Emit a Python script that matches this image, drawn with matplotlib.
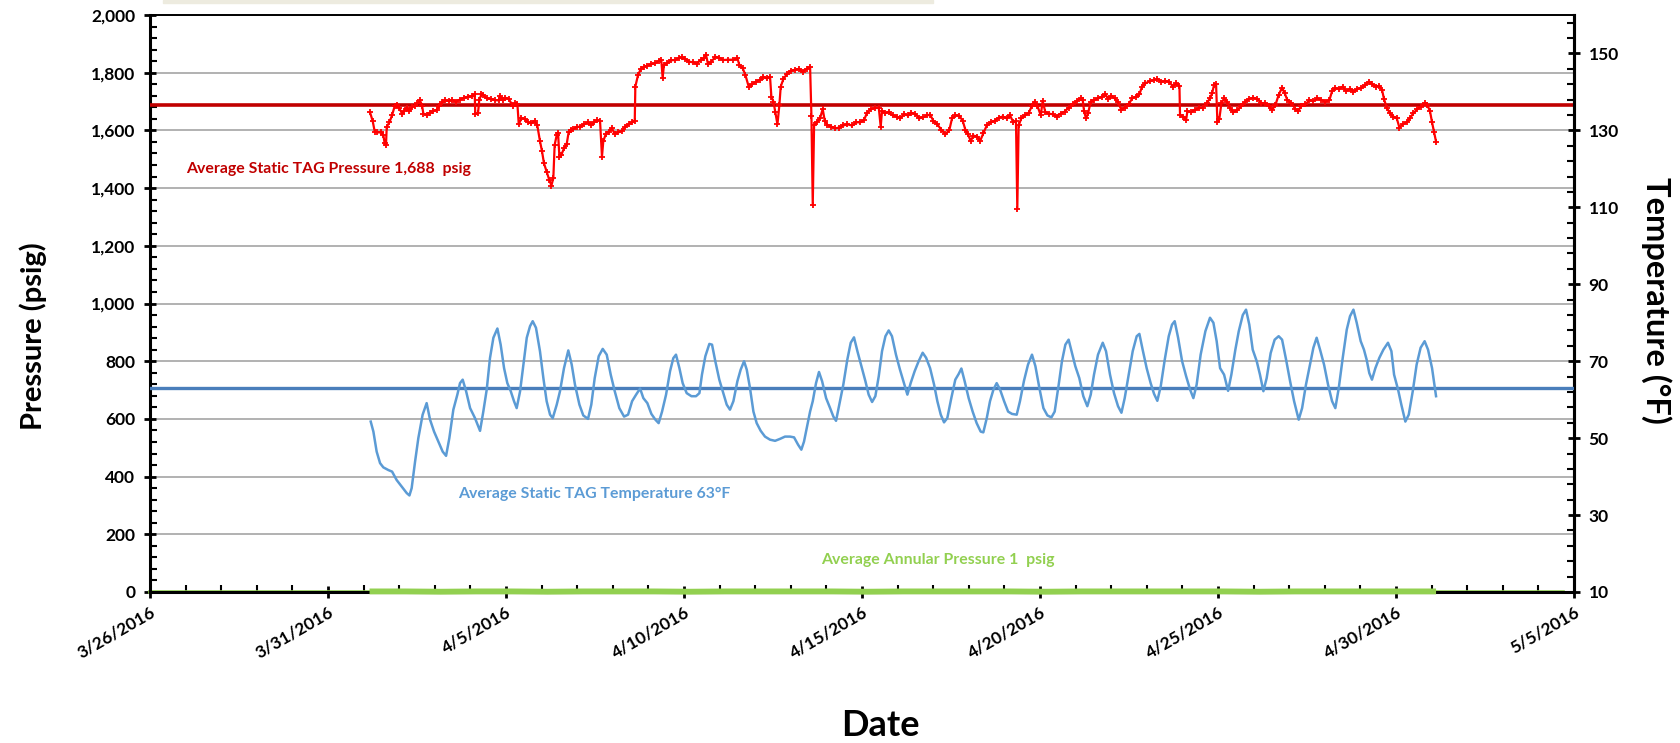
import datetime as dt
import matplotlib
matplotlib.use("Agg")
import matplotlib.pyplot as plt
import matplotlib.dates as mdates
from matplotlib.ticker import FixedLocator, FuncFormatter
from matplotlib.patches import Rectangle
import numpy as np

plt.rcParams['font.family'] = ['Lato', 'DejaVu Sans']

# ---- data -------------------------------------------------------------
# time stamps are hours after 2016-04-01 00:00
pressure_hours = [
    4.3, 6.1, 7.5, 9.3, 12.0, 13.3, 14.2, 15.1, 15.6, 17.4,
    19.2, 21.0, 22.3, 24.1, 25.9, 27.3, 29.1, 30.9, 32.7, 34.5,
    36.2, 38.0, 39.4, 40.3, 42.5, 44.8, 47.0, 49.3, 51.1, 52.9,
    55.1, 57.4, 59.6, 62.3, 65.0, 67.7, 70.4, 73.1, 74.9, 75.3,
    77.1, 78.0, 79.4, 80.7, 83.0, 85.7, 88.4, 91.1, 92.0, 93.8,
    95.6, 97.8, 100.5, 102.3, 103.7, 104.6, 106.4, 108.6, 110.9, 113.1,
    115.3, 117.1, 118.9, 120.3, 121.6, 123.4, 125.2, 126.6, 127.9, 128.8,
    130.2, 131.1, 132.0, 133.3, 135.1, 136.9, 138.3, 139.6, 141.4, 143.7,
    145.9, 148.6, 151.3, 153.5, 155.3, 157.6, 159.4, 160.7, 161.6, 163.4,
    165.2, 167.5, 169.3, 171.5, 174.2, 176.5, 178.7, 181.0, 182.8, 183.2,
    185.0, 186.8, 189.0, 191.3, 193.5, 196.2, 198.9, 200.7, 201.6, 202.5,
    204.3, 207.0, 209.7, 212.4, 214.7, 216.9, 219.6, 222.3, 224.5, 227.2,
    229.5, 230.8, 232.2, 234.4, 237.1, 239.8, 242.5,
    245.7, 249.3, 252.0, 253.3, 255.6, 257.4, 259.6, 261.9, 264.6, 267.3,
    269.5, 271.8, 274.0, 274.9, 276.3, 277.6, 279.0, 280.3, 281.2, 283.0,
    285.2, 287.9, 290.6, 293.3, 296.0, 298.7, 301.0, 301.9, 302.8, 303.7,
    305.5, 307.7, 309.5, 310.9, 312.7, 315.3, 318.0, 320.7, 323.4, 326.1,
    329.3, 332.0, 334.7, 337.4, 339.2, 341.9, 344.6, 347.3, 348.6, 349.5,
    351.8, 354.0, 356.7, 359.4, 361.6, 364.3, 367.0, 369.3, 372.0, 374.7,
    377.4, 380.1, 381.9, 384.1, 386.8, 389.5, 392.2, 394.9, 396.7, 399.0,
    401.6, 403.9, 405.7, 407.5, 409.3, 411.1, 413.8, 415.6, 417.8, 420.1,
    422.8, 425.5, 428.2, 430.8, 433.5, 435.8, 438.0, 439.8, 440.7, 441.6,
    443.4, 445.7, 448.4, 450.6, 452.4, 454.2, 456.5, 457.8, 459.6, 461.9,
    464.6, 467.3, 469.9, 472.6, 475.3, 478.0, 480.7, 483.4,
    484.8, 485.7, 487.0, 488.4, 490.2, 492.4, 495.1, 497.8, 500.1, 501.9,
    504.1, 506.4, 508.6, 510.9, 513.1, 515.8, 518.1, 520.7, 523.0, 524.8,
    527.0, 530.2, 532.9, 535.1, 537.8, 540.5, 543.2, 545.5, 547.7, 550.0,
    550.4, 552.7, 554.5, 555.4, 557.6, 560.3, 563.0, 565.7, 568.4, 570.6,
    572.0, 573.3, 574.7, 575.6, 576.9, 578.3, 580.1, 581.9, 584.1, 586.4,
    589.1, 591.8, 594.5, 597.1, 599.8, 602.5, 605.2, 607.9, 610.2, 612.4,
    614.7, 616.9, 619.2, 621.0, 622.8, 625.5, 628.2, 630.0, 632.2, 634.9,
    637.6, 640.3, 643.0, 645.7, 648.4, 651.1, 652.9, 655.1, 657.8, 660.1,
    662.3, 665.0, 667.3, 670.0, 672.7, 675.3, 677.6, 679.8, 682.5, 684.8,
    686.6, 687.9, 689.7, 692.0, 694.2, 696.5, 698.3, 700.5, 703.2, 705.5,
    707.7, 710.4, 712.6, 715.3, 717.1, 718.9, 720.3, 721.6, 723.0,
]
pressure_psig = [
    1663, 1633, 1596, 1593, 1593, 1584, 1555, 1550, 1613, 1628,
    1653, 1685, 1688, 1677, 1658, 1667, 1679, 1667, 1682, 1686,
    1694, 1704, 1686, 1658, 1653, 1662, 1667, 1671, 1686, 1697,
    1704, 1702, 1705, 1700, 1707, 1713, 1717, 1719, 1725, 1656,
    1659, 1705, 1725, 1723, 1711, 1709, 1705, 1704, 1720, 1704,
    1713, 1709, 1686, 1694, 1690, 1621, 1642, 1640, 1628, 1625,
    1633, 1617, 1563, 1527, 1486, 1457, 1428, 1409, 1434, 1550,
    1584, 1590, 1509, 1515, 1538, 1552, 1596, 1601, 1605, 1612,
    1613, 1621, 1628, 1619, 1628, 1636, 1633, 1509, 1563, 1589,
    1596, 1607, 1587, 1593, 1598, 1613, 1621, 1628, 1633, 1752,
    1792, 1812, 1820, 1824, 1829, 1832, 1840, 1843, 1783, 1827,
    1832, 1843, 1844, 1850, 1854, 1847, 1838, 1836, 1831, 1844,
    1850, 1863, 1829, 1838, 1855, 1852, 1844,
    1845, 1845, 1850, 1827, 1815, 1792, 1752, 1760, 1769, 1775,
    1786, 1780, 1786, 1717, 1700, 1663, 1621, 1688, 1752, 1778,
    1794, 1806, 1810, 1813, 1803, 1813, 1821, 1651, 1342, 1617,
    1628, 1642, 1674, 1633, 1619, 1613, 1607, 1610, 1617, 1621,
    1617, 1628, 1628, 1636, 1659, 1674, 1677, 1679, 1613, 1667,
    1660, 1664, 1652, 1648, 1642, 1656, 1652, 1661, 1656, 1642,
    1646, 1652, 1655, 1633, 1621, 1602, 1586, 1602, 1642, 1652,
    1651, 1633, 1602, 1586, 1563, 1582, 1578, 1563, 1590, 1617,
    1628, 1633, 1644, 1648, 1642, 1652, 1628, 1633, 1328, 1617,
    1642, 1652, 1660, 1686, 1700, 1686, 1652, 1702, 1663, 1658,
    1656, 1648, 1658, 1665, 1679, 1690, 1702, 1711,
    1705, 1667, 1642, 1659, 1700, 1705, 1711, 1717, 1725, 1709,
    1720, 1711, 1697, 1671, 1679, 1690, 1711, 1717, 1725, 1752,
    1763, 1771, 1775, 1778, 1769, 1771, 1769, 1752, 1763, 1755,
    1653, 1648, 1636, 1667, 1663, 1671, 1677, 1679, 1694, 1711,
    1728, 1757, 1760, 1628, 1640, 1694, 1711, 1700, 1679, 1663,
    1671, 1686, 1700, 1709, 1713, 1709, 1694, 1694, 1686, 1671,
    1688, 1723, 1748, 1728, 1705, 1694, 1674, 1667, 1686, 1690,
    1705, 1702, 1711, 1705, 1700, 1705, 1736, 1746, 1744, 1752,
    1736, 1744, 1734, 1744, 1748, 1757, 1769, 1760, 1752, 1755,
    1740, 1709, 1679, 1659, 1648, 1642, 1610, 1621, 1628, 1644,
    1659, 1674, 1682, 1694, 1688, 1667, 1628, 1596, 1561,
]

temp_hours = [
    4.8, 6.6, 8.8, 11.1, 13.3, 16.7, 19.2, 22.3, 25.7, 29.1,
    30.9, 32.4, 34.7, 36.9, 39.8, 42.5, 44.8, 47.5, 50.4, 53.3,
    55.6, 57.8, 60.5, 63.2, 65.0, 66.8, 69.1, 71.8, 75.1, 78.5,
    80.7, 83.0, 85.2, 87.5, 90.2, 92.4, 94.7, 96.9, 99.2, 101.4,
    103.2, 105.5, 107.7, 110.0, 112.2, 114.0, 116.2, 118.9, 121.2, 123.4,
    125.7, 127.5, 130.2, 132.4, 135.1, 138.0, 140.3, 142.5, 145.5, 148.1,
    151.3, 153.5, 155.8, 158.5, 161.2, 163.9, 166.6, 169.3, 172.4, 175.6,
    178.3, 181.0, 183.7, 186.4, 188.6, 191.3, 194.0, 196.7, 198.9, 201.2,
    203.9, 206.6, 208.8, 210.6, 212.9, 215.1, 217.8, 221.0, 224.1, 226.4,
    228.1, 230.4, 233.1, 234.9, 237.1, 239.8, 242.5,
    244.8, 247.0, 249.3, 252.0, 254.2, 256.5, 258.3, 260.5, 262.8, 265.0,
    267.7, 270.6, 274.0, 277.4, 280.7, 284.1, 287.5, 290.2, 292.9, 295.1,
    296.9, 299.2, 301.0, 302.8, 305.0, 307.0, 309.1, 311.8, 314.5, 316.7,
    318.5, 320.7, 323.4, 326.1, 328.4, 330.6, 332.9, 335.6, 338.3, 340.5,
    342.8, 345.0, 347.3, 349.5, 351.8, 354.0, 356.2, 358.9, 361.6, 364.3,
    366.6, 368.8, 371.5, 374.2, 376.9, 379.2, 381.9, 384.6, 386.8, 389.1,
    391.3, 393.5, 396.2, 398.9, 401.2, 403.0, 405.2, 407.9, 410.6, 413.3,
    416.0, 417.8, 420.1, 422.3, 424.6, 426.8, 429.1, 431.8, 434.5, 437.1,
    440.3, 442.5, 445.2, 447.9, 450.6, 452.9, 455.6, 458.3, 461.0, 463.7,
    465.9, 468.6, 470.8, 473.1, 475.3, 477.6, 479.8, 482.5,
    485.2, 487.9, 490.2, 492.4, 495.1, 498.3, 500.5, 503.2, 505.9, 508.6,
    510.9, 513.1, 515.8, 518.5, 521.2, 523.0, 525.2, 527.9, 530.6, 532.9,
    535.1, 537.4, 540.1, 542.8, 545.0, 546.8, 549.1, 551.8, 554.5, 557.2,
    559.4, 561.6, 564.3, 567.5, 570.6, 572.9, 575.1, 577.4, 580.1, 582.8,
    585.0, 587.7, 590.0, 592.7, 594.9, 597.1, 599.4, 602.1, 604.3, 606.6,
    608.8, 611.5, 614.2, 616.9, 619.2, 621.9, 624.6, 627.3, 630.4, 632.7,
    635.3, 638.0, 640.3, 642.5, 644.8, 647.5, 650.2, 652.9, 655.1, 657.4,
    660.1, 662.8, 665.0, 667.3, 669.5, 672.2, 674.4, 676.2, 678.0, 679.8,
    682.1, 684.8, 687.5, 690.6, 692.9, 694.7, 697.4, 699.6, 702.3, 704.6,
    707.3, 709.9, 712.6, 715.3, 717.6, 720.3, 723.0,
]
temp_f = [
    54.3, 51.7, 46.5, 43.5, 42.4, 41.7, 41.3, 39.1, 37.4, 35.7,
    35.1, 37.0, 43.9, 50.0, 56.1, 59.1, 54.8, 51.7, 49.1, 46.5,
    45.4, 50.0, 57.4, 61.3, 64.3, 65.2, 62.2, 57.8, 55.2, 51.9,
    56.9, 62.6, 70.8, 76.1, 78.5, 74.3, 68.2, 64.3, 62.2, 59.6,
    57.8, 62.2, 69.1, 76.1, 79.1, 80.4, 78.7, 72.6, 65.6, 59.6,
    56.1, 55.2, 58.7, 62.2, 68.2, 72.8, 69.1, 63.9, 58.7, 55.9,
    55.0, 58.7, 65.6, 71.3, 73.2, 71.7, 66.5, 62.2, 57.8, 55.6,
    56.1, 59.6, 61.3, 62.9, 60.4, 59.1, 56.3, 54.8, 53.9, 56.9,
    61.3, 67.4, 70.8, 71.7, 68.2, 64.3, 61.7, 60.9, 60.9, 61.7,
    66.5, 71.3, 74.5, 74.3, 70.0, 65.2, 61.7,
    58.7, 57.4, 59.6, 64.8, 67.8, 70.0, 67.8, 63.0, 56.9, 53.9,
    51.9, 50.4, 49.6, 49.3, 49.8, 50.4, 50.4, 50.2, 48.3, 47.0,
    49.1, 53.5, 56.9, 59.6, 64.3, 67.2, 64.8, 60.4, 57.8, 55.6,
    54.5, 58.7, 63.9, 70.4, 74.8, 76.2, 72.6, 68.7, 64.8, 61.3,
    59.4, 60.9, 66.1, 72.6, 76.5, 78.0, 76.5, 71.7, 67.8, 64.3,
    61.3, 64.3, 67.4, 70.0, 72.2, 70.9, 68.2, 63.9, 59.6, 56.1,
    54.1, 55.2, 60.4, 65.2, 66.7, 68.1, 64.8, 60.4, 56.9, 53.9,
    51.7, 51.5, 55.2, 59.6, 62.6, 64.3, 62.6, 59.6, 56.9, 56.3,
    56.1, 59.6, 64.9, 69.1, 71.7, 68.7, 63.0, 57.8, 55.9, 55.4,
    56.9, 63.9, 70.0, 74.3, 75.6, 72.1, 68.7, 65.6,
    60.9, 58.3, 61.3, 66.5, 71.7, 74.8, 72.6, 66.5, 61.7, 58.3,
    56.6, 60.4, 66.5, 72.6, 76.5, 77.1, 73.0, 68.2, 64.3, 61.5,
    59.7, 63.5, 70.4, 76.5, 79.5, 80.4, 76.1, 70.0, 66.1, 62.6,
    60.4, 63.9, 71.7, 77.8, 81.3, 80.0, 75.2, 68.2, 66.5, 62.3,
    66.5, 73.0, 77.8, 82.0, 83.4, 79.5, 73.0, 70.0, 66.5, 62.2,
    65.6, 72.1, 75.6, 76.5, 75.6, 70.4, 64.8, 59.6, 54.8, 57.8,
    63.9, 69.1, 73.5, 76.1, 73.0, 69.1, 63.9, 59.6, 57.8, 63.0,
    70.9, 78.2, 81.7, 83.4, 80.0, 75.2, 73.0, 70.4, 66.9, 65.2,
    68.2, 70.9, 73.0, 74.8, 72.6, 66.5, 62.6, 58.7, 54.3, 56.1,
    62.2, 69.1, 73.5, 75.2, 73.0, 68.2, 60.9,
]

annular_hours = [4, 28, 52, 76, 100, 124, 148, 172, 196, 220, 244, 268, 292,
                 316, 340, 364, 388, 412, 436, 460, 484, 508, 532, 556, 580,
                 604, 628, 652, 676, 700, 723]
annular_psig = [2, 2, 1, 2, 2, 1, 2, 2, 2, 1, 2, 2, 2, 2, 1, 2, 2, 2, 2, 1,
                2, 2, 2, 2, 2, 1, 2, 2, 2, 2, 2]

avg_pressure = 1688
avg_temp = 63
avg_annular = 1

x_start = dt.datetime(2016, 3, 26)
x_end = dt.datetime(2016, 5, 5)
t0 = dt.datetime(2016, 4, 1)

# ---- styling ----------------------------------------------------------
RED = '#FF0000'
DARK_RED = '#C00000'
BLUE = '#5B9BD5'
BLUE_AVG = '#4A7EBB'
GREEN = '#92D050'
GRID = '#ABABAB'


def to_num(hours):
    return mdates.date2num(t0) + np.asarray(hours, dtype=float) / 24.0


W, H = 1681, 743
fig = plt.figure(figsize=(W / 100, H / 100), dpi=100)
fig.patch.set_facecolor('white')

left_px, right_px, top_px, bottom_px = 150, 1574, 15, 592
ax = fig.add_axes([left_px / W, 1 - bottom_px / H,
                   (right_px - left_px) / W, (bottom_px - top_px) / H])
ax2 = ax.twinx()

x0 = mdates.date2num(x_start)
x1 = mdates.date2num(x_end)
ax.set_xlim(x0, x1)
ax.set_ylim(0, 2000)
ax2.set_ylim(10, 160)

# grid
ax.set_yticks(np.arange(0, 2001, 200))
ax.yaxis.set_minor_locator(FixedLocator(np.arange(0, 2001, 40)))
ax.yaxis.grid(True, which='major', color=GRID, linewidth=1.3)
ax.set_axisbelow(True)

# average lines
ax.axhline(avg_pressure, color=DARK_RED, linewidth=2.6, zorder=3)
ax2.axhline(avg_temp, color=BLUE_AVG, linewidth=2.4, zorder=3)
ax.axhline(avg_annular, xmin=0, xmax=0.992, color=GREEN, linewidth=2.6,
           zorder=2.4, clip_on=False)

# series
ax.plot(to_num(pressure_hours), pressure_psig, color=RED, linewidth=1.6,
        marker='+', markersize=5, markeredgewidth=1.3, zorder=4)
ax2.plot(to_num(temp_hours), temp_f, color=BLUE, linewidth=1.8, zorder=4)
ax.plot(to_num(annular_hours), annular_psig, color=GREEN, linewidth=4.2,
        solid_capstyle='butt', zorder=5, clip_on=False)

# annotations
ax.text(x0 + 1.01, 1466, 'Average Static TAG Pressure 1,688  psig',
        color=DARK_RED, fontsize=11.4, fontweight='bold', va='center', ha='left')
ax.text(x0 + 8.65, 340, 'Average Static TAG Temperature 63°F',
        color=BLUE, fontsize=11.4, fontweight='bold', va='center', ha='left')
ax.text(x0 + 18.85, 111, 'Average Annular Pressure 1  psig',
        color=GREEN, fontsize=11.4, fontweight='bold', va='center', ha='left')

# x axis
major_days = [x0 + d for d in range(0, 41, 5)]
ax.xaxis.set_major_locator(FixedLocator(major_days))
ax.xaxis.set_minor_locator(FixedLocator([x0 + d for d in range(0, 41)]))


def date_label(v, pos):
    d = mdates.num2date(v)
    return f'{d.month}/{d.day}/{d.year}'


ax.xaxis.set_major_formatter(FuncFormatter(date_label))
ax.yaxis.set_major_formatter(FuncFormatter(lambda v, p: f'{v:,.0f}'))

ax2.yaxis.set_major_locator(FixedLocator(np.arange(10, 161, 20)))
ax2.yaxis.set_minor_locator(FixedLocator(np.arange(10, 161, 4)))

for a in (ax, ax2):
    a.tick_params(which='major', direction='inout', length=9, width=2,
                  labelsize=12.5, colors='black')
    a.tick_params(which='minor', direction='in', length=5, width=1.5)

ax.tick_params(axis='x', which='major', pad=4)
for lbl in ax.get_xticklabels():
    lbl.set_rotation(30)
    lbl.set_ha('right')
    lbl.set_rotation_mode('anchor')
    lbl.set_fontweight('bold')
for lbl in ax.get_yticklabels() + ax2.get_yticklabels():
    lbl.set_fontweight('bold')
ax.tick_params(axis='y', pad=6)
ax2.tick_params(axis='y', pad=6)

for side in ('left', 'right', 'bottom'):
    ax.spines[side].set_linewidth(2.2)
    ax.spines[side].set_color('black')
ax.spines['top'].set_linewidth(1.4)
ax.spines['top'].set_color('black')
for side in ('left', 'bottom', 'top'):
    ax2.spines[side].set_visible(False)
ax2.spines['right'].set_linewidth(2.2)
ax2.spines['right'].set_color('black')

# axis titles
fig.text(33 / W, 1 - 336 / H, 'Pressure (psig)', rotation=90, fontsize=21,
         fontweight='bold', ha='center', va='center')
fig.text(1656 / W, 1 - 300 / H, 'Temperature (°F)', rotation=270, fontsize=23.5,
         fontweight='bold', ha='center', va='center')
fig.text(880 / W, 1 - 726 / H, 'Date', fontsize=26, fontweight='bold',
         ha='center', va='center')

# thin strip along the top edge
fig.patches.append(Rectangle((163 / W, 1 - 3 / H), (933 - 163) / W, 3 / H,
                             transform=fig.transFigure, color='#EDEBDF',
                             zorder=0))

fig.savefig('out.png', dpi=100)
